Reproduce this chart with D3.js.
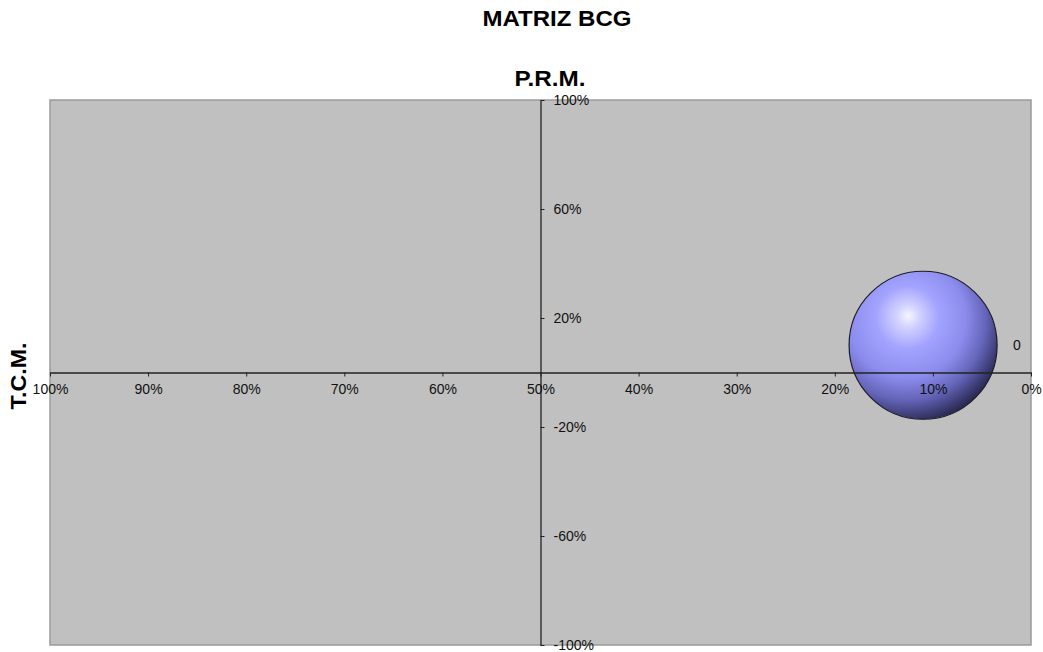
<!DOCTYPE html>
<html>
<head>
<meta charset="utf-8">
<script src="https://cdn.jsdelivr.net/npm/d3@7"></script>
<style>
html,body{margin:0;padding:0;background:#fff;}
svg{display:block;font-family:"Liberation Sans",Arial,sans-serif;}
</style>
</head>
<body>
<svg id="chart" width="1043" height="652"></svg>
<script>
const chartTitle = "MATRIZ BCG";
const xTitle = "P.R.M.";
const yTitle = "T.C.M.";
const xTicks = [0, 0.1, 0.2, 0.3, 0.4, 0.5, 0.6, 0.7, 0.8, 0.9, 1.0];
const yTicks = [-1, -0.6, -0.2, 0.2, 0.6, 1];
const bubbleX = [0.11];
const bubbleY = [0.10];
const bubbleSize = [1];
const bubbleLabels = ["0"];

const svg = d3.select("#chart");
const plot = {left: 50, right: 1031, top: 100, bottom: 645};

const x = d3.scaleLinear().domain([1, 0]).range([plot.left, plot.right]);
const y = d3.scaleLinear().domain([-1, 1]).range([plot.bottom, plot.top]);
const r = d3.scaleSqrt().domain([0, d3.max(bubbleSize)]).range([0, 74]);
const pct = d => d3.format(".0%")(d).replace("\u2212", "-");

const defs = svg.append("defs");
const grad = defs.append("radialGradient").attr("id", "sphere")
  .attr("cx", "0.38").attr("cy", "0.34").attr("r", "0.72")
  .attr("fx", "0.4").attr("fy", "0.3");
[["0", "#f6f6ff"], ["0.1", "#d4d4ff"], ["0.3", "#a2a2ff"], ["0.55", "#8c8cee"], ["0.75", "#6464b8"], ["0.9", "#3a3a70"], ["1", "#202040"]]
  .forEach(([o, c]) => grad.append("stop").attr("offset", o).attr("stop-color", c));

// plot area
svg.append("rect")
  .attr("x", plot.left).attr("y", plot.top)
  .attr("width", plot.right - plot.left).attr("height", plot.bottom - plot.top)
  .attr("fill", "#c0c0c0").attr("stroke", "#9a9a9a").attr("stroke-width", 1.5);

// titles
svg.append("text").attr("x", 557).attr("y", 26).attr("text-anchor", "middle")
  .attr("font-size", 22).attr("font-weight", "bold")
  .attr("textLength", 149).attr("lengthAdjust", "spacingAndGlyphs").text(chartTitle);
svg.append("text").attr("x", 550).attr("y", 86).attr("text-anchor", "middle")
  .attr("font-size", 22).attr("font-weight", "bold")
  .attr("textLength", 71).attr("lengthAdjust", "spacingAndGlyphs").text(xTitle);
svg.append("text").attr("transform", `translate(26,376) rotate(-90)`)
  .attr("text-anchor", "middle").attr("font-size", 22).attr("font-weight", "bold")
  .attr("textLength", 67).attr("lengthAdjust", "spacingAndGlyphs").text(yTitle);

// x axis through y=0
const xAxis = d3.axisBottom(x).tickValues(xTicks).tickFormat(pct).tickSize(4).tickSizeOuter(0);
const gx = svg.append("g").attr("transform", `translate(0,${y(0)})`).call(xAxis);
gx.select(".domain").attr("stroke", "#222").attr("stroke-width", 1.3);
gx.selectAll(".tick line").attr("stroke", "#222");
gx.selectAll(".tick text").attr("font-size", 14).attr("font-family", "Liberation Sans, Arial, sans-serif")
  .attr("fill", "#111").attr("y", 12);

// y axis through x=50%
const yAxis = d3.axisRight(y).tickValues(yTicks).tickFormat(pct).tickSize(4).tickSizeOuter(0);
const gy = svg.append("g").attr("transform", `translate(${x(0.5)},0)`).call(yAxis);
gy.select(".domain").attr("stroke", "#222").attr("stroke-width", 1.3);
gy.selectAll(".tick line").attr("stroke", "#222");
gy.selectAll(".tick text").attr("font-size", 14).attr("font-family", "Liberation Sans, Arial, sans-serif")
  .attr("fill", "#111").attr("x", 13);

// bubbles
const data = bubbleX.map((d, i) => ({x: d, y: bubbleY[i], s: bubbleSize[i], label: bubbleLabels[i]}));
svg.append("g").selectAll("circle").data(data).join("circle")
  .attr("cx", d => x(d.x)).attr("cy", d => y(d.y)).attr("r", d => r(d.s))
  .attr("fill", "url(#sphere)").attr("stroke", "#1a1a2a").attr("stroke-width", 1.2);

// axis labels drawn over bubble
gx.raise();

svg.append("g").selectAll("text").data(data).join("text")
  .attr("x", d => x(d.x) + r(d.s) + 16).attr("y", d => y(d.y) + 5)
  .attr("font-size", 14).attr("fill", "#111").text(d => d.label);
</script>
</body>
</html>
